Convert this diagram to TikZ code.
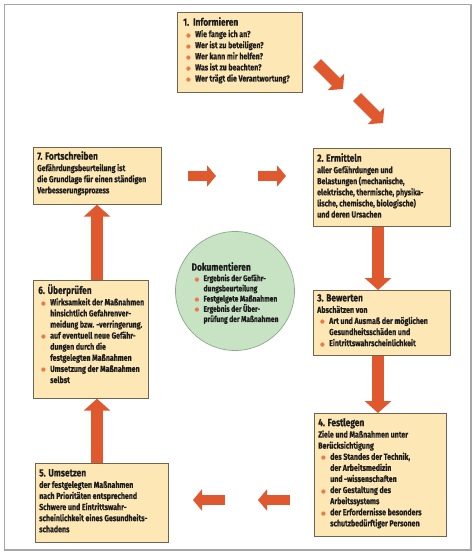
\documentclass[tikz,border=0pt]{standalone}
\usepackage{fontspec}
\setmainfont{Fira Sans}[BoldFont={Fira Sans Bold}, FakeStretch=0.8, BoldFeatures={FakeBold=0.3}]
\newfontfamily\dejavu{DejaVu Sans}
\usetikzlibrary{arrows.meta,calc}
\definecolor{boxfill}{HTML}{FDE7B5}
\definecolor{boxline}{HTML}{6F6352}
\definecolor{arr}{HTML}{E0582E}
\definecolor{bulc}{HTML}{E87B4C}
\definecolor{circfill}{HTML}{C8E2C4}
\definecolor{circline}{HTML}{8AAA88}
\definecolor{framec}{HTML}{A4A8AC}
\newcommand{\bl}{\makebox[12pt][l]{\hspace{3pt}\textcolor{bulc}{\dejavu\fontsize{5.5}{5}\selectfont ●}}}
\newcommand{\ct}{\hspace*{12pt}}
\newcommand{\ttl}[1]{{\fontsize{10.5}{11}\selectfont #1}\\[0.3pt]}
\begin{document}
\begin{tikzpicture}[x=1pt,y=-1pt,
  box/.style={draw=boxline, fill=boxfill, line width=0.7pt, anchor=north west, inner sep=0pt},
  txt/.style={anchor=north west, align=left, inner sep=0pt, text=black!88,
    font=\bfseries\fontsize{8.8}{11.1}\selectfont},
  blockh/.style={draw=arr, line width=10pt, -{Triangle[length=9pt,width=21pt]}},
  blockv/.style={draw=arr, line width=12pt, -{Triangle[length=12pt,width=26pt]}},
  blockd/.style={draw=arr, line width=11pt, -{Triangle[length=10pt,width=23pt]}}]
\useasboundingbox (0,0) rectangle (475,556);
\draw[framec, line width=1.4pt] (4.5,4.5) rectangle (471,550);

% boxes
\node[box, minimum width=125pt, minimum height=80pt] (b1) at (177,12) {};
\node[box, minimum width=137pt, minimum height=78pt] (b2) at (313,148) {};
\node[box, minimum width=137pt, minimum height=65pt] (b3) at (313,290) {};
\node[box, minimum width=132pt, minimum height=123pt] (b4) at (314,413) {};
\node[box, minimum width=133pt, minimum height=79pt] (b5) at (35,463) {};
\node[box, minimum width=115pt, minimum height=118pt] (b6) at (33,280) {};
\node[box, minimum width=128pt, minimum height=57pt] (b7) at (33,147) {};
\node[circle, draw=circline, fill=circfill, line width=0.7pt, minimum size=119pt, inner sep=0pt] (doc) at (235,291) {};

% texts
\node[txt] (t1) at ($(b1.north west)+(6,5)$) {\ttl{1.\ \ Informieren}
\bl Wie fange ich an?\\
\bl Wer ist zu beteiligen?\\
\bl Wer kann mir helfen?\\
\bl Was ist zu beachten?\\
\bl Wer trägt die Verantwortung?};

\node[txt] (t2) at ($(b2.north west)+(4,5)$) {\ttl{2. Ermitteln}
aller Gefährdungen und\\
Belastungen (mechanische,\\
elektrische, thermische, physika-\\
lische, chemische, biologische)\\
und deren Ursachen};

\node[txt] (t3) at ($(b3.north west)+(4,4)$) {\ttl{3. Bewerten}
Abschätzen von\\
\bl Art und Ausmaß der möglichen\\
\ct Gesundheitsschäden und\\
\bl Eintrittswahrscheinlichkeit};

\node[txt] (t4) at ($(b4.north west)+(4,5)$) {\ttl{4. Festlegen}
Ziele und Maßnahmen unter\\
Berücksichtigung\\
\bl des Standes der Technik,\\
\ct der Arbeitsmedizin\\
\ct und -wissenschaften\\
\bl der Gestaltung des\\
\ct Arbeitssystems\\
\bl der Erfordernisse besonders\\
\ct schutzbedürftiger Personen};

\node[txt] (t5) at ($(b5.north west)+(4,6)$) {\ttl{5. Umsetzen}
der festgelegten Maßnahmen\\
nach Prioritäten entsprechend\\
Schwere und Eintrittswahr-\\
scheinlichkeit eines Gesundheits-\\
schadens};

\node[txt] (t6) at ($(b6.north west)+(5,4)$) {\ttl{6. Überprüfen}
\bl Wirksamkeit der Maßnahmen\\
\ct hinsichtlich Gefahrenver-\\
\ct meidung bzw. -verringerung.\\
\bl auf eventuell neue Gefähr-\\
\ct dungen durch die\\
\ct festgelegten Maßnahmen\\
\bl Umsetzung der Maßnahmen\\
\ct selbst};

\node[txt] (t7) at ($(b7.north west)+(4,4)$) {\ttl{7. Fortschreiben}
Gefährdungsbeurteilung ist\\
die Grundlage für einen ständigen\\
Verbesserungsprozess};

\node[txt, anchor=center, font=\bfseries\fontsize{8.3}{10.2}\selectfont] (td) at ($(doc.center)+(0,2)$) {\ttl{Dokumentieren}
\bl Ergebnis der Gefähr-\\
\ct dungsbeurteilung\\
\bl Festgelgete Maßnahmen\\
\bl Ergebnis der Über-\\
\ct prüfung der Maßnahmen};

% connector anchors
\coordinate (vr) at (378,0);
\coordinate (vl) at (97,0);
\coordinate (d1s) at (317,63);
\coordinate (d1e) at (343,89);
\coordinate (d2s) at (357,97);
\coordinate (d2e) at (383,123);
\coordinate (h1s) at (188,176);
\coordinate (h1e) at (216,176);
\coordinate (h2s) at (258,176);
\coordinate (h2e) at (286,176);
\coordinate (l1s) at (290,500);
\coordinate (l1e) at (258,500);
\coordinate (l2s) at (225,500);
\coordinate (l2e) at (193,500);

% arrows
\draw[blockd] (d1s) -- (d1e);
\draw[blockd] (d2s) -- (d2e);
\draw[blockh] (h1s) -- (h1e);
\draw[blockh] (h2s) -- (h2e);
\draw[blockv] (b2.south -| vr) -- (b3.north -| vr);
\draw[blockv] (b3.south -| vr) -- (b4.north -| vr);
\draw[blockh] (l1s) -- (l1e);
\draw[blockh] (l2s) -- (l2e);
\draw[blockv] (b5.north -| vl) -- (b6.south -| vl);
\draw[blockv] (b6.north -| vl) -- (b7.south -| vl);
\end{tikzpicture}
\end{document}
